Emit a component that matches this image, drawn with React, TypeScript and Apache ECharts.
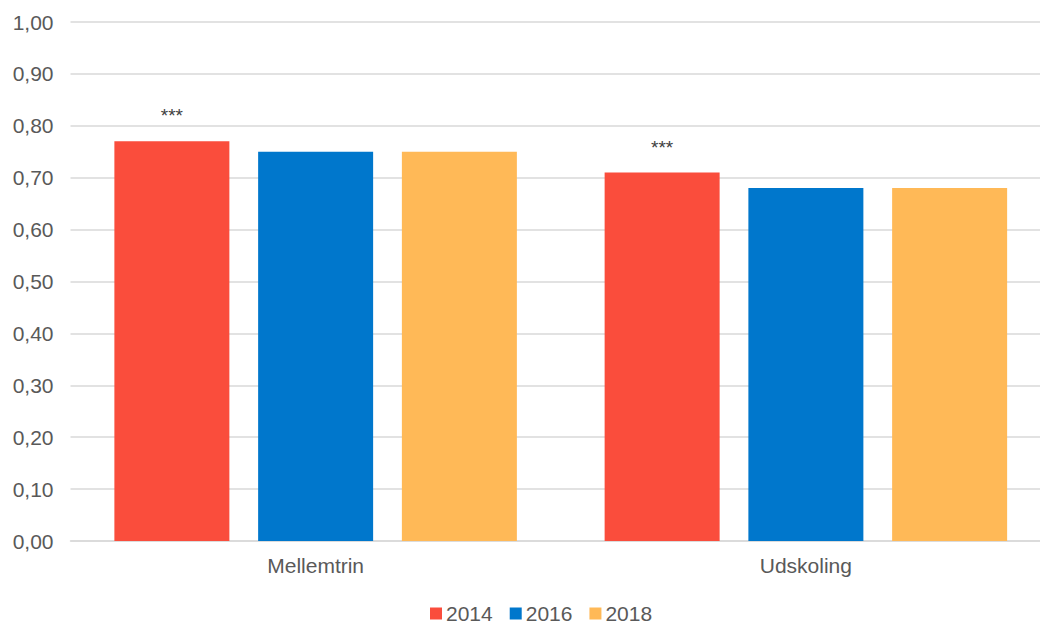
import React, { useEffect, useRef } from "react";
import * as echarts from "echarts";

const categories = ["Mellemtrin", "Udskoling"];
const seriesNames = ["2014", "2016", "2018"];
const values2014 = [0.77, 0.71];
const values2016 = [0.75, 0.68];
const values2018 = [0.75, 0.68];
const significance2014 = ["***", "***"];
const colors = ["#FA4D3C", "#0077CC", "#FFB957"];

export default function App() {
  const ref = useRef<HTMLDivElement>(null);
  useEffect(() => {
    if (!ref.current) return;
    const chart = echarts.init(ref.current, undefined, { renderer: "svg" });
    const font = "Liberation Sans, Arial, sans-serif";
    const data = [values2014, values2016, values2018];
    chart.setOption({
      animation: false,
      textStyle: { fontFamily: font },
      grid: { left: 70.5, right: 0, top: 22, bottom: 83, containLabel: false },
      legend: {
        top: 598,
        left: 425,
        itemWidth: 12,
        itemHeight: 12,
        itemGap: 17,
        icon: "rect",
        textStyle: { fontSize: 21, color: "#595959", fontFamily: font, padding: [0, 0, 0, -1] },
        data: seriesNames,
      },
      xAxis: {
        type: "category",
        data: categories,
        axisLine: { show: true, lineStyle: { color: "#d9d9d9", width: 1.5 } },
        axisTick: { show: false },
        axisLabel: { fontSize: 21, color: "#595959", margin: 14, fontFamily: font },
      },
      yAxis: {
        type: "value",
        min: 0,
        max: 1,
        interval: 0.1,
        axisLine: { show: false },
        axisTick: { show: false },
        splitLine: { lineStyle: { color: "#d9d9d9", width: 1.5 } },
        axisLabel: {
          fontSize: 21,
          color: "#595959",
          margin: 17,
          fontFamily: font,
          formatter: (v: number) => v.toFixed(2).replace(".", ","),
        },
      },
      series: seriesNames.map((name, i) => ({
        name,
        type: "bar",
        data: data[i],
        barWidth: 115,
        barGap: "25%",
        itemStyle: { color: colors[i] },
        label:
          i === 0
            ? {
                show: true,
                position: "top",
                distance: 16,
                fontSize: 19,
                color: "#404040",
                fontFamily: font,
                formatter: (p: any) => significance2014[p.dataIndex],
              }
            : { show: false },
      })),
    });
    return () => chart.dispose();
  }, []);
  return (
    <div
      ref={ref}
      style={{ position: "fixed", left: 0, top: 0, width: 1051, height: 624, background: "#fff" }}
    />
  );
}
